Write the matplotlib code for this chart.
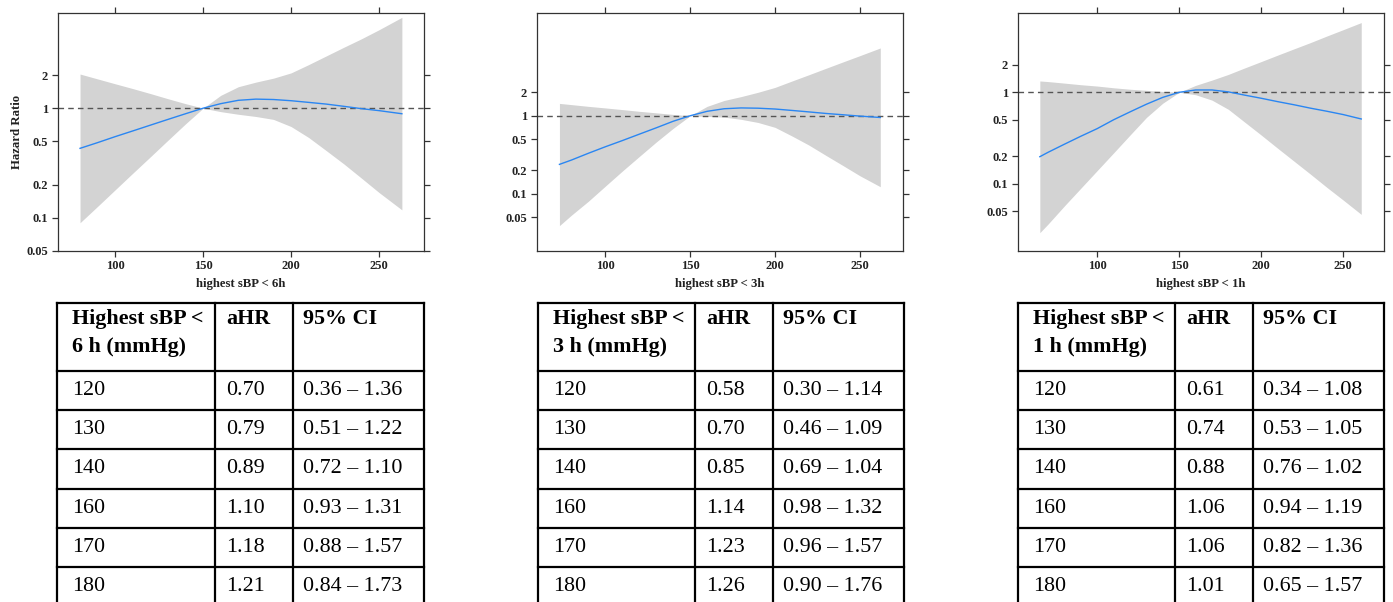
import numpy as np
import matplotlib
matplotlib.use("Agg")
import matplotlib.pyplot as plt
from matplotlib.ticker import FixedLocator, FixedFormatter, NullLocator

# ── Curve data (hazard ratio vs highest sBP) ──────────────────────────────
p1_x = [80, 90, 100, 110, 120, 130, 140, 150, 160, 170, 180, 190, 200, 210, 220, 230, 240, 250, 263]
p1_hr = [0.43, 0.485, 0.55, 0.62, 0.70, 0.79, 0.89, 1.0, 1.10, 1.18, 1.21, 1.20, 1.17, 1.13, 1.09, 1.04, 0.99, 0.95, 0.89]
p1_upper = [2.05, 1.85, 1.67, 1.51, 1.36, 1.22, 1.10, 1.0, 1.31, 1.57, 1.73, 1.88, 2.1, 2.5, 3.0, 3.6, 4.3, 5.2, 6.75]
p1_lower = [0.09, 0.127, 0.18, 0.255, 0.36, 0.51, 0.72, 1.0, 0.93, 0.88, 0.84, 0.79, 0.68, 0.54, 0.41, 0.31, 0.23, 0.17, 0.118]

p2_x = [73, 80, 90, 100, 110, 120, 130, 140, 150, 160, 170, 180, 190, 200, 210, 220, 230, 240, 250, 262]
p2_hr = [0.238, 0.27, 0.33, 0.40, 0.48, 0.58, 0.70, 0.85, 1.0, 1.14, 1.23, 1.26, 1.25, 1.22, 1.17, 1.12, 1.07, 1.03, 0.99, 0.95]
p2_upper = [1.44, 1.39, 1.32, 1.26, 1.20, 1.14, 1.09, 1.04, 1.0, 1.32, 1.57, 1.76, 2.0, 2.31, 2.79, 3.36, 4.06, 4.9, 5.9, 7.4]
p2_lower = [0.039, 0.053, 0.08, 0.125, 0.195, 0.30, 0.46, 0.69, 1.0, 0.98, 0.96, 0.90, 0.82, 0.71, 0.55, 0.42, 0.31, 0.23, 0.17, 0.123]

p3_x = [65, 70, 80, 90, 100, 110, 120, 130, 140, 150, 160, 170, 180, 190, 200, 210, 220, 230, 240, 250, 261]
p3_hr = [0.197, 0.22, 0.27, 0.33, 0.40, 0.50, 0.61, 0.74, 0.88, 1.0, 1.06, 1.06, 1.01, 0.93, 0.86, 0.79, 0.73, 0.67, 0.62, 0.57, 0.51]
p3_upper = [1.33, 1.31, 1.26, 1.21, 1.17, 1.12, 1.08, 1.05, 1.02, 1.0, 1.19, 1.36, 1.57, 1.85, 2.17, 2.55, 2.99, 3.5, 4.13, 4.85, 5.8]
p3_lower = [0.029, 0.036, 0.057, 0.089, 0.139, 0.217, 0.34, 0.53, 0.76, 1.0, 0.94, 0.82, 0.65, 0.47, 0.34, 0.244, 0.176, 0.127, 0.091, 0.066, 0.046]

x_ticks = [100, 150, 200, 250]
y_ticks = [0.05, 0.1, 0.2, 0.5, 1, 2]
y_tick_labels = ["0.05", "0.1", "0.2", "0.5", "1", "2"]
x_labels = ["highest sBP < 6h", "highest sBP < 3h", "highest sBP < 1h"]

# ── Table data ─────────────────────────────────────────────────────────────
tbl_headers = [
    ["Highest sBP <\n6 h (mmHg)", "aHR", "95% CI"],
    ["Highest sBP <\n3 h (mmHg)", "aHR", "95% CI"],
    ["Highest sBP <\n1 h (mmHg)", "aHR", "95% CI"],
]
tbl_sbp = ["120", "130", "140", "160", "170", "180"]
tbl1_ahr = ["0.70", "0.79", "0.89", "1.10", "1.18", "1.21"]
tbl1_ci = ["0.36 – 1.36", "0.51 – 1.22", "0.72 – 1.10", "0.93 – 1.31", "0.88 – 1.57", "0.84 – 1.73"]
tbl2_ahr = ["0.58", "0.70", "0.85", "1.14", "1.23", "1.26"]
tbl2_ci = ["0.30 – 1.14", "0.46 – 1.09", "0.69 – 1.04", "0.98 – 1.32", "0.96 – 1.57", "0.90 – 1.76"]
tbl3_ahr = ["0.61", "0.74", "0.88", "1.06", "1.06", "1.01"]
tbl3_ci = ["0.34 – 1.08", "0.53 – 1.05", "0.76 – 1.02", "0.94 – 1.19", "0.82 – 1.36", "0.65 – 1.57"]

# ── Layout (pixels) ────────────────────────────────────────────────────────
W, H = 1393, 602
serif = "Liberation Serif"
panels = [
    dict(x=p1_x, hr=p1_hr, lo=p1_lower, hi=p1_upper, left=57.7, xlim=(67.3, 275.7), ylim=(0.05, 7.35)),
    dict(x=p2_x, hr=p2_hr, lo=p2_lower, hi=p2_upper, left=536.7, xlim=(59.6, 275.5), ylim=(0.0186, 20.6)),
    dict(x=p3_x, hr=p3_hr, lo=p3_lower, hi=p3_upper, left=1017.7, xlim=(51.5, 275.0), ylim=(0.0184, 7.33)),
]
box_w, box_top, box_bot = 366.5, 13.3, 250.7

fig = plt.figure(figsize=(W / 100, H / 100), dpi=100)

for i, p in enumerate(panels):
    ax = fig.add_axes([p["left"] / W, (H - box_bot) / H, box_w / W, (box_bot - box_top) / H])
    ax.fill_between(p["x"], p["lo"], p["hi"], color="#d3d3d3", lw=0)
    ax.axhline(1, color="#555555", lw=1.0, ls=(0, (4, 3)))
    ax.plot(p["x"], p["hr"], color="#2a86f2", lw=1.0)
    ax.set_yscale("log")
    ax.set_xlim(*p["xlim"])
    ax.set_ylim(*p["ylim"])
    ax.yaxis.set_major_locator(FixedLocator(y_ticks))
    ax.yaxis.set_major_formatter(FixedFormatter(y_tick_labels))
    ax.yaxis.set_minor_locator(NullLocator())
    ax.set_xticks(x_ticks)
    ax.tick_params(direction="out", length=4, width=0.9, color="#333333",
                   top=True, right=True, labeltop=False, labelright=False,
                   labelsize=9, pad=3)
    for lab in ax.get_xticklabels() + ax.get_yticklabels():
        lab.set_fontfamily(serif)
        lab.set_fontweight("bold")
        lab.set_color("#222222")
    for s in ax.spines.values():
        s.set_color("#333333")
        s.set_linewidth(0.9)
    ax.set_xlabel(x_labels[i], family=serif, weight="bold", fontsize=9.2, labelpad=4, color="#222222")
    if i == 0:
        ax.set_ylabel("Hazard Ratio", family=serif, weight="bold", fontsize=9.2, color="#222222")
        ax.yaxis.set_label_coords(-0.095, 0.5)

# ── Tables ─────────────────────────────────────────────────────────────────
tables = [
    (tbl_headers[0], tbl1_ahr, tbl1_ci, 57.5),
    (tbl_headers[1], tbl2_ahr, tbl2_ci, 537.7),
    (tbl_headers[2], tbl3_ahr, tbl3_ci, 1017.7),
]
tbl_top = 303.3
tbl_w = 366.0
head_h = 67.4
row_h = 39.3
col_fr = [0.0, 0.43, 0.643, 1.0]
fs = 15.8

for header, ahr, ci, tleft in tables:
    tax = fig.add_axes([tleft / W, 0, tbl_w / W, (H - tbl_top) / H])
    tax.set_xlim(0, tbl_w)
    tax.set_ylim(H - tbl_top, 0)
    tax.axis("off")
    ys = [0, head_h] + [head_h + row_h * (k + 1) for k in range(len(tbl_sbp) - 1)]
    for y in ys:
        tax.plot([0, tbl_w], [y, y], color="black", lw=1.6, clip_on=False, solid_capstyle="projecting")
    for f in col_fr:
        tax.plot([f * tbl_w, f * tbl_w], [0, H], color="black", lw=1.6, clip_on=False)
    xs = [15, col_fr[1] * tbl_w + 11, col_fr[2] * tbl_w + 10]
    for j, h in enumerate(header):
        for m, line in enumerate(h.split("\n")):
            tax.text(xs[j], 21 + 28 * m, line, family=serif, weight="bold", fontsize=fs,
                     va="baseline", ha="left")
    for k in range(len(tbl_sbp)):
        yb = head_h + row_h * k + 24
        for j, v in enumerate([tbl_sbp[k], ahr[k], ci[k]]):
            tax.text(xs[j], yb, v, family=serif, fontsize=fs, va="baseline", ha="left")

fig.savefig("out.png", dpi=100)
